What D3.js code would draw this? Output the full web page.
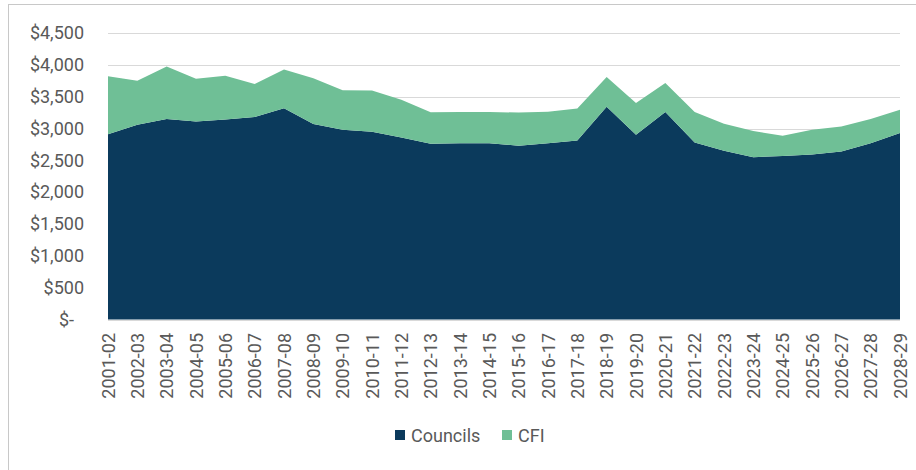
<!DOCTYPE html>
<html>
<head>
<meta charset="utf-8">
<script src="https://cdn.jsdelivr.net/npm/d3@7/dist/d3.min.js"></script>
<style>
  html, body { margin: 0; padding: 0; background: #fff; }
  svg { display: block; font-family: Roboto, "Noto Sans", sans-serif; }
</style>
</head>
<body>
<svg id="chart" width="916" height="470"></svg>
<script>
const years = ["2001-02","2002-03","2003-04","2004-05","2005-06","2006-07","2007-08","2008-09","2009-10","2010-11",
  "2011-12","2012-13","2013-14","2014-15","2015-16","2016-17","2017-18","2018-19","2019-20","2020-21",
  "2021-22","2022-23","2023-24","2024-25","2025-26","2026-27","2027-28","2028-29"];
const councils = [2910,3060,3150,3110,3140,3180,3320,3070,2980,2950,2860,2760,2770,2770,2730,2770,2810,3340,2900,3260,
  2780,2650,2550,2570,2590,2640,2770,2930];
const cfi = [910,690,825,670,690,520,605,720,620,645,590,495,490,490,520,495,505,470,500,455,480,425,410,315,390,390,380,365];
const yTicks = [0,500,1000,1500,2000,2500,3000,3500,4000,4500];
const seriesNames = ["Councils","CFI"];
const colors = {"Councils":"#0b3a5c","CFI":"#6fbf96"};

const svg = d3.select("#chart");

// outer frame
svg.append("rect").attr("x",8.5).attr("y",4.5).attr("width",940).attr("height",480)
  .attr("fill","none").attr("stroke","#c8c8c8").attr("stroke-width",1);

const x = d3.scalePoint().domain(years).range([108, 900]);
const y = d3.scaleLinear().domain([0, 4500]).range([319.5, 33]);

// gridlines
svg.append("g").selectAll("line").data(yTicks).join("line")
  .attr("x1", 108).attr("x2", 900)
  .attr("y1", d => Math.round(y(d)) + 0.5).attr("y2", d => Math.round(y(d)) + 0.5)
  .attr("stroke", "#d9d9d9").attr("stroke-width", 1);

const rows = years.map((yr, i) => ({year: yr, Councils: councils[i], CFI: cfi[i]}));
const stacked = d3.stack().keys(seriesNames)(rows);
const area = d3.area()
  .x(d => x(d.data.year))
  .y0(d => y(d[0]))
  .y1(d => y(d[1]));

svg.append("g").selectAll("path").data(stacked).join("path")
  .attr("d", area)
  .attr("fill", d => colors[d.key]);

// y axis labels
const yAxis = d3.axisLeft(y).tickValues(yTicks).tickSize(0).tickPadding(0)
  .tickFormat(d => d === 0 ? "$-" : "$" + d3.format(",")(d));
const gy = svg.append("g").attr("transform", "translate(84,0)").call(yAxis);
gy.select(".domain").remove();
gy.selectAll("text").attr("fill", "#595959").style("font-size", "18px")
  .style("font-family", "Roboto, sans-serif")
  .attr("dx", d => d === 0 ? -10 : 0);

// x axis labels
const xAxis = d3.axisBottom(x).tickSize(0).tickPadding(0);
const gx = svg.append("g").attr("transform", "translate(0,320)").call(xAxis);
gx.select(".domain").remove();
gx.selectAll("text")
  .attr("fill", "#595959").style("font-size", "18px").style("font-family", "Roboto, sans-serif")
  .attr("text-anchor", "end")
  .attr("transform", "rotate(-90)")
  .attr("x", -13).attr("y", 0).attr("dy", "0.35em");

// legend
const legend = svg.append("g");
const legendItems = [{name:"Councils", x:395}, {name:"CFI", x:502}];
legendItems.forEach(it => {
  legend.append("rect").attr("x", it.x).attr("y", 430).attr("width", 10).attr("height", 10)
    .attr("fill", colors[it.name]);
  legend.append("text").attr("x", it.x + 16).attr("y", 441.5)
    .attr("fill", "#595959").style("font-size", "18px").text(it.name);
});
</script>
</body>
</html>
